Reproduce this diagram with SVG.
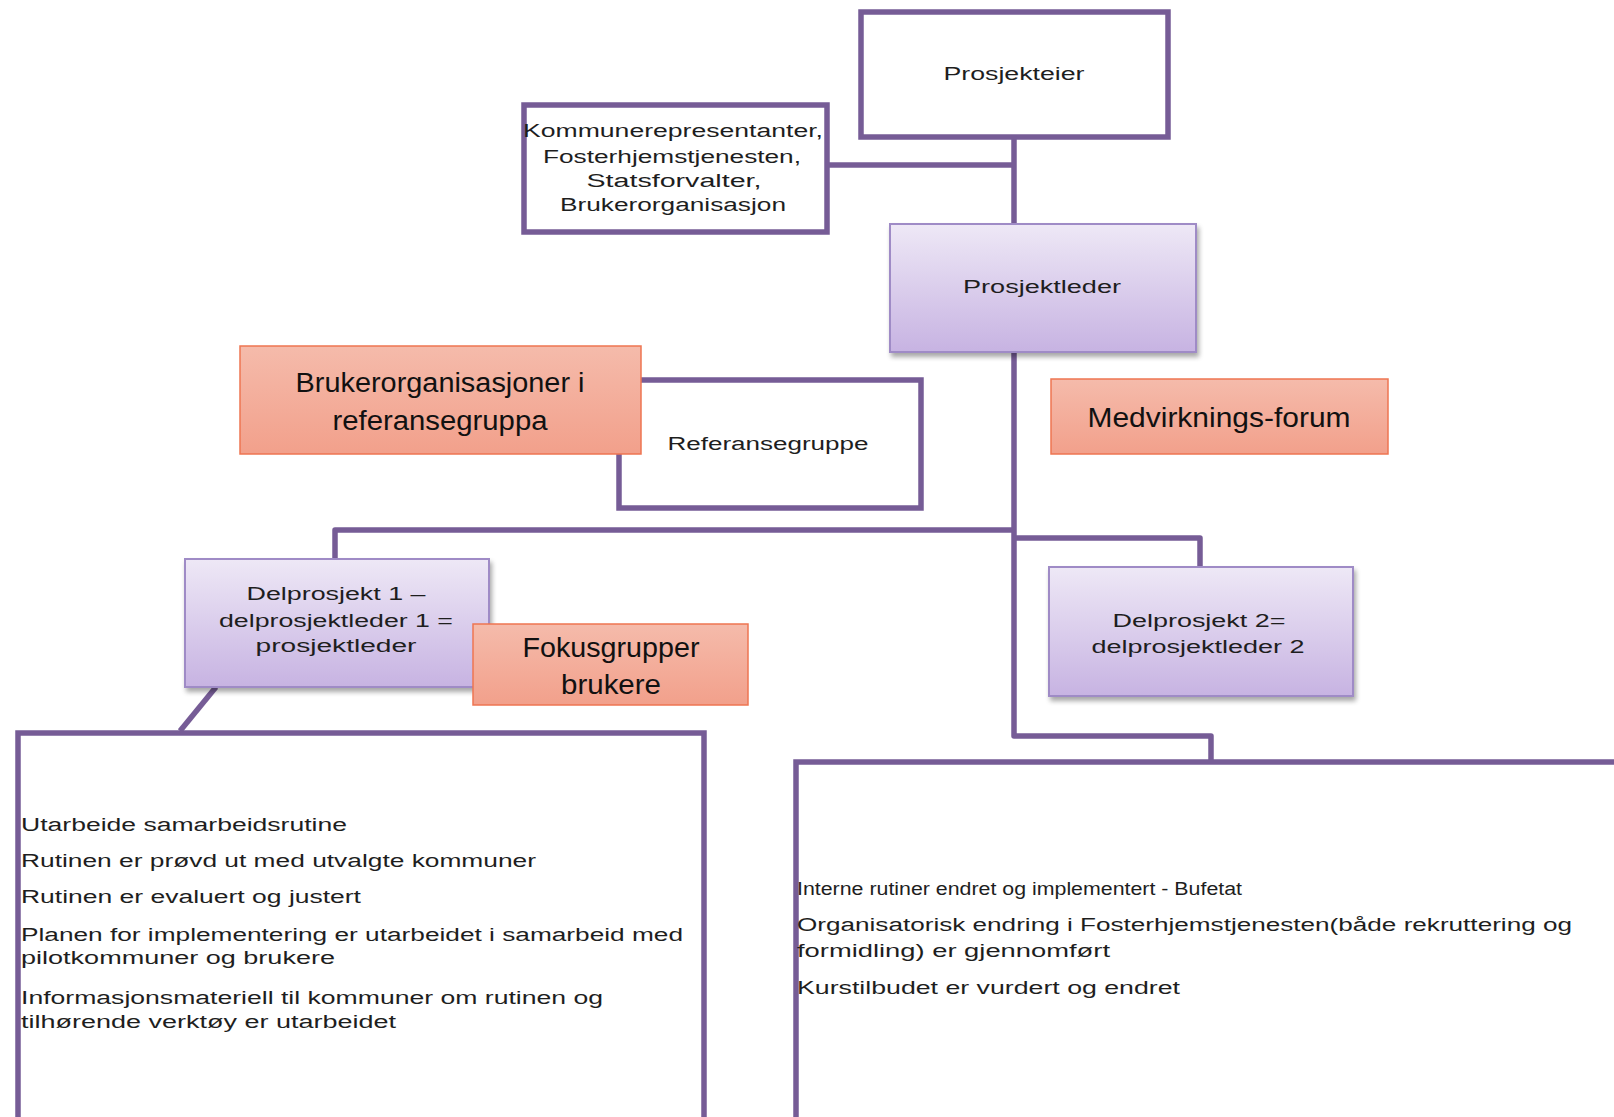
<svg xmlns="http://www.w3.org/2000/svg" width="1614" height="1117" viewBox="0 0 1614 1117">
<defs>
<linearGradient id="lav" x1="0" y1="0" x2="0" y2="1">
<stop offset="0" stop-color="#eee8f6"/>
<stop offset="1" stop-color="#c7b3e2"/>
</linearGradient>
<linearGradient id="sal" x1="0" y1="0" x2="0" y2="1">
<stop offset="0" stop-color="#f5bbab"/>
<stop offset="1" stop-color="#f2a08b"/>
</linearGradient>
<filter id="sh" x="-10%" y="-10%" width="130%" height="130%">
<feGaussianBlur in="SourceAlpha" stdDeviation="2.5"/>
<feOffset dx="2" dy="4" result="b"/>
<feComponentTransfer><feFuncA type="linear" slope="0.35"/></feComponentTransfer>
<feMerge><feMergeNode/><feMergeNode in="SourceGraphic"/></feMerge>
</filter>
</defs>
<style>
.wbox{fill:#ffffff;stroke:#765c96;stroke-width:5.5}
.lbox{fill:url(#lav);stroke:#9f8bc6;stroke-width:2}
.sbox{fill:url(#sal);stroke:#ee7552;stroke-width:1.5}
.ln{fill:none;stroke:#765c96;stroke-width:5.5;stroke-linejoin:round}
.t{font-family:"Liberation Sans",Arial,sans-serif;font-size:18px;fill:#1e1e1e}
.c{text-anchor:middle}
.big{font-family:"Liberation Sans",Arial,sans-serif;font-size:27px;fill:#111111;text-anchor:middle}
</style>
<rect width="1614" height="1117" fill="#ffffff"/>

<g id="connectors">
<line class="ln" x1="1014" y1="138" x2="1014" y2="224"/>
<line class="ln" x1="829" y1="165" x2="1014" y2="165"/>
<polyline class="ln" points="1014,352 1014,736 1211,736 1211,760"/>
<polyline class="ln" points="1014,530 335,530 335,559"/>
<polyline class="ln" points="1014,538 1200,538 1200,567"/>
<line class="ln" x1="216" y1="687" x2="180" y2="731"/>
</g>

<g id="prosjekteier">
<rect class="wbox" x="861" y="12" width="307" height="125"/>
<text class="t c" x="1014" y="80" textLength="141" lengthAdjust="spacingAndGlyphs">Prosjekteier</text>
</g>

<g id="kommune">
<rect class="wbox" x="524" y="105" width="303" height="127"/>
<text class="t c" x="673" y="137" textLength="300" lengthAdjust="spacingAndGlyphs">Kommunerepresentanter,</text>
<text class="t c" x="672" y="163" textLength="258" lengthAdjust="spacingAndGlyphs">Fosterhjemstjenesten,</text>
<text class="t c" x="674" y="187" textLength="175" lengthAdjust="spacingAndGlyphs">Statsforvalter,</text>
<text class="t c" x="673" y="211" textLength="226" lengthAdjust="spacingAndGlyphs">Brukerorganisasjon</text>
</g>

<g id="prosjektleder">
<rect class="lbox" filter="url(#sh)" x="890" y="224" width="306" height="128"/>
<text class="t c" x="1042" y="293" textLength="158" lengthAdjust="spacingAndGlyphs">Prosjektleder</text>
</g>

<g id="referansegruppe">
<rect class="wbox" x="619" y="380" width="302" height="128"/>
<text class="t c" x="768" y="450" textLength="201" lengthAdjust="spacingAndGlyphs">Referansegruppe</text>
</g>

<g id="brukerorganisasjoner">
<rect class="sbox" x="240" y="346" width="401" height="108"/>
<text class="big" x="440" y="392" textLength="289" lengthAdjust="spacingAndGlyphs">Brukerorganisasjoner i</text>
<text class="big" x="440" y="430" textLength="215" lengthAdjust="spacingAndGlyphs">referansegruppa</text>
</g>

<g id="medvirkningsforum">
<rect class="sbox" x="1051" y="379" width="337" height="75"/>
<text class="big" x="1219" y="427" textLength="263" lengthAdjust="spacingAndGlyphs">Medvirknings-forum</text>
</g>

<g id="delprosjekt1">
<rect class="lbox" filter="url(#sh)" x="185" y="559" width="304" height="128"/>
<text class="t c" x="336" y="600" textLength="179" lengthAdjust="spacingAndGlyphs">Delprosjekt 1 –</text>
<text class="t c" x="336" y="627" textLength="234" lengthAdjust="spacingAndGlyphs">delprosjektleder 1 =</text>
<text class="t c" x="336" y="652" textLength="161" lengthAdjust="spacingAndGlyphs">prosjektleder</text>
</g>

<g id="fokusgrupper">
<rect class="sbox" x="473" y="624" width="275" height="81"/>
<text class="big" x="611" y="657" textLength="177" lengthAdjust="spacingAndGlyphs">Fokusgrupper</text>
<text class="big" x="611" y="694" textLength="100" lengthAdjust="spacingAndGlyphs">brukere</text>
</g>

<g id="delprosjekt2">
<rect class="lbox" filter="url(#sh)" x="1049" y="567" width="304" height="129"/>
<text class="t c" x="1199" y="627" textLength="173" lengthAdjust="spacingAndGlyphs">Delprosjekt 2=</text>
<text class="t c" x="1198" y="653" textLength="213" lengthAdjust="spacingAndGlyphs">delprosjektleder 2</text>
</g>

<g id="delprosjekt1-resultater">
<rect class="wbox" x="18" y="733" width="686" height="420"/>
<text class="t" x="21" y="831" textLength="326" lengthAdjust="spacingAndGlyphs">Utarbeide samarbeidsrutine</text>
<text class="t" x="21" y="867" textLength="515" lengthAdjust="spacingAndGlyphs">Rutinen er prøvd ut med utvalgte kommuner</text>
<text class="t" x="21" y="903" textLength="340" lengthAdjust="spacingAndGlyphs">Rutinen er evaluert og justert</text>
<text class="t" x="21" y="941" textLength="662" lengthAdjust="spacingAndGlyphs">Planen for implementering er utarbeidet i samarbeid med</text>
<text class="t" x="21" y="964" textLength="314" lengthAdjust="spacingAndGlyphs">pilotkommuner og brukere</text>
<text class="t" x="21" y="1004" textLength="582" lengthAdjust="spacingAndGlyphs">Informasjonsmateriell til kommuner om rutinen og</text>
<text class="t" x="21" y="1028" textLength="375" lengthAdjust="spacingAndGlyphs">tilhørende verktøy er utarbeidet</text>
</g>

<g id="delprosjekt2-resultater">
<rect class="wbox" x="796" y="762" width="900" height="420"/>
<text class="t" x="797" y="895" textLength="445" lengthAdjust="spacingAndGlyphs">Interne rutiner endret og implementert - Bufetat</text>
<text class="t" x="797" y="931" textLength="775" lengthAdjust="spacingAndGlyphs">Organisatorisk endring i Fosterhjemstjenesten(både rekruttering og</text>
<text class="t" x="797" y="957" textLength="313" lengthAdjust="spacingAndGlyphs">formidling) er gjennomført</text>
<text class="t" x="797" y="994" textLength="383" lengthAdjust="spacingAndGlyphs">Kurstilbudet er vurdert og endret</text>
</g>
</svg>
